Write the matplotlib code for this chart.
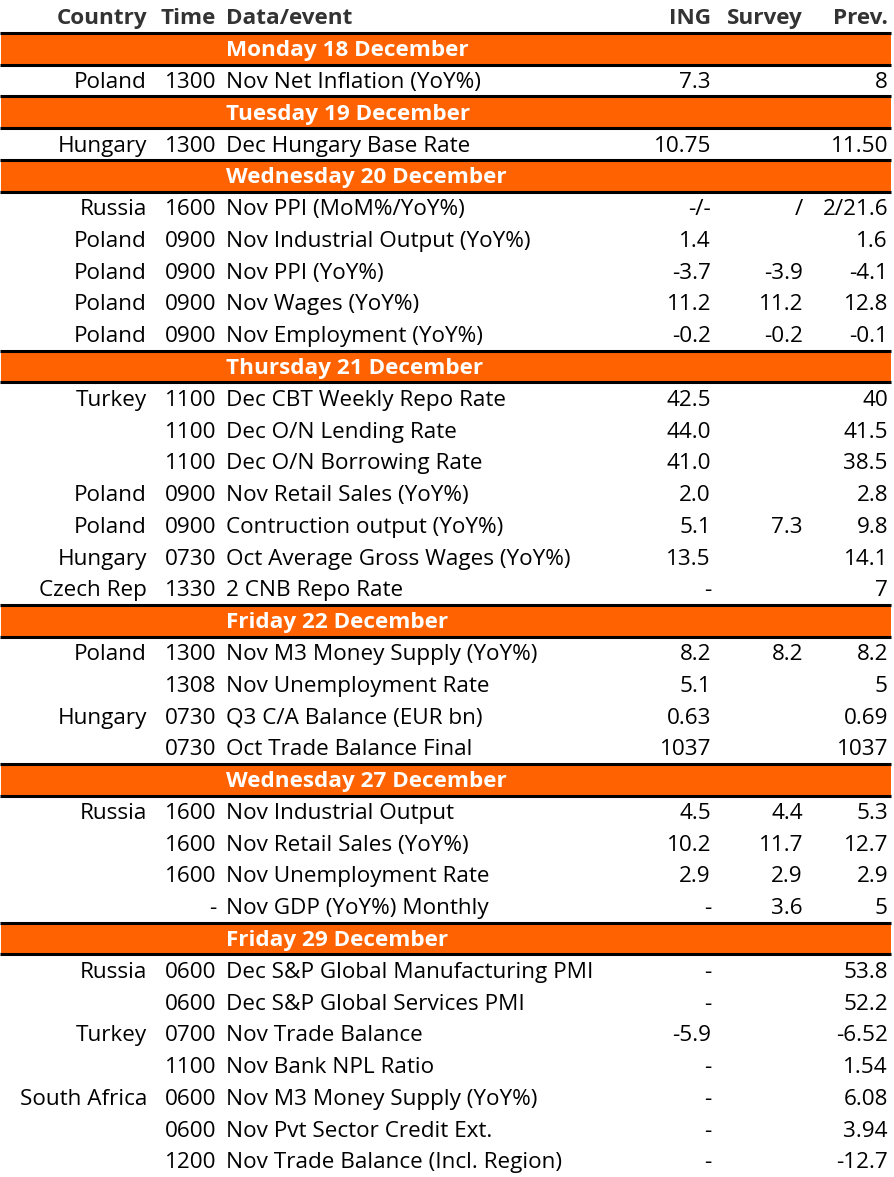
import matplotlib
matplotlib.use("Agg")
import matplotlib.pyplot as plt
from matplotlib.patches import Rectangle

# ---------------- data ----------------
headers = ["Country", "Time", "Data/event", "ING", "Survey", "Prev."]

days = ["Monday 18 December", "Tuesday 19 December", "Wednesday 20 December",
        "Thursday 21 December", "Friday 22 December", "Wednesday 27 December",
        "Friday 29 December"]

row_day = [0,
           1,
           2, 2, 2, 2, 2,
           3, 3, 3, 3, 3, 3, 3,
           4, 4, 4, 4,
           5, 5, 5, 5,
           6, 6, 6, 6, 6, 6, 6]

countries = ["Poland",
             "Hungary",
             "Russia", "Poland", "Poland", "Poland", "Poland",
             "Turkey", "", "", "Poland", "Poland", "Hungary", "Czech Rep",
             "Poland", "", "Hungary", "",
             "Russia", "", "", "",
             "Russia", "", "Turkey", "", "South Africa", "", ""]

times = ["1300",
         "1300",
         "1600", "0900", "0900", "0900", "0900",
         "1100", "1100", "1100", "0900", "0900", "0730", "1330",
         "1300", "1308", "0730", "0730",
         "1600", "1600", "1600", "-",
         "0600", "0600", "0700", "1100", "0600", "0600", "1200"]

events = ["Nov Net Inflation (YoY%)",
          "Dec Hungary Base Rate",
          "Nov PPI (MoM%/YoY%)", "Nov Industrial Output (YoY%)", "Nov PPI (YoY%)",
          "Nov Wages (YoY%)", "Nov Employment (YoY%)",
          "Dec CBT Weekly Repo Rate", "Dec O/N Lending Rate", "Dec O/N Borrowing Rate",
          "Nov Retail Sales (YoY%)", "Contruction output (YoY%)",
          "Oct Average Gross Wages (YoY%)", "2 CNB Repo Rate",
          "Nov M3 Money Supply (YoY%)", "Nov Unemployment Rate",
          "Q3 C/A Balance (EUR bn)", "Oct Trade Balance Final",
          "Nov Industrial Output", "Nov Retail Sales (YoY%)",
          "Nov Unemployment Rate", "Nov GDP (YoY%) Monthly",
          "Dec S&P Global Manufacturing PMI", "Dec S&P Global Services PMI",
          "Nov Trade Balance", "Nov Bank NPL Ratio", "Nov M3 Money Supply (YoY%)",
          "Nov Pvt Sector Credit Ext.", "Nov Trade Balance (Incl. Region)"]

ing = ["7.3",
       "10.75",
       "-/-", "1.4", "-3.7", "11.2", "-0.2",
       "42.5", "44.0", "41.0", "2.0", "5.1", "13.5", "-",
       "8.2", "5.1", "0.63", "1037",
       "4.5", "10.2", "2.9", "-",
       "-", "-", "-5.9", "-", "-", "-", "-"]

survey = ["",
          "",
          "/", "", "-3.9", "11.2", "-0.2",
          "", "", "", "", "7.3", "", "",
          "8.2", "", "", "",
          "4.4", "11.7", "2.9", "3.6",
          "", "", "", "", "", "", ""]

prev = ["8",
        "11.50",
        "2/21.6", "1.6", "-4.1", "12.8", "-0.1",
        "40", "41.5", "38.5", "2.8", "9.8", "14.1", "7",
        "8.2", "5", "0.69", "1037",
        "5.3", "12.7", "2.9", "5",
        "53.8", "52.2", "-6.52", "1.54", "6.08", "3.94", "-12.7"]

# ---------------- layout ----------------
W, H = 894, 1177
ORANGE = "#FF6200"
FONT = ["Open Sans", "DejaVu Sans"]
FS = 16.2

fig = plt.figure(figsize=(W / 100, H / 100), dpi=100)
ax = fig.add_axes([0, 0, 1, 1])
ax.set_xlim(0, W)
ax.set_ylim(H, 0)
ax.axis("off")

row_h = 31.78
y0 = 1.0
x_left, x_right = 1.0, 890.5
col_country = 147
col_time = 216
col_event = 226
col_ing = 711
col_survey = 803
col_prev = 888


def center(k):
    return y0 + (k + 0.5) * row_h


def text(x, k, s, ha, color="black", weight="normal"):
    ax.text(x, center(k) + 2.0, s, ha=ha, va="center", fontsize=FS,
            family=FONT, color=color, fontweight=weight)


# header
hdr_color = "#333333"
text(col_country, 0, headers[0], "right", hdr_color, "bold")
text(col_time, 0, headers[1], "right", hdr_color, "bold")
text(col_event, 0, headers[2], "left", hdr_color, "bold")
text(col_ing, 0, headers[3], "right", hdr_color, "bold")
text(col_survey, 0, headers[4], "right", hdr_color, "bold")
text(col_prev, 0, headers[5], "right", hdr_color, "bold")

k = 1
prev_day = None
for i in range(len(events)):
    if row_day[i] != prev_day:
        prev_day = row_day[i]
        top = y0 + k * row_h
        ax.add_patch(Rectangle((x_left, top), x_right - x_left, row_h,
                               facecolor=ORANGE, edgecolor="none", zorder=1))
        ax.plot([x_left - 1, x_right], [top, top], color="black", lw=2.2,
                solid_capstyle="butt", zorder=2)
        ax.plot([x_left - 1, x_right], [top + row_h, top + row_h], color="black",
                lw=2.2, solid_capstyle="butt", zorder=2)
        text(col_event, k, days[row_day[i]], "left", "white", "bold")
        k += 1
    text(col_country, k, countries[i], "right")
    text(col_time, k, times[i], "right")
    text(col_event, k, events[i], "left")
    text(col_ing, k, ing[i], "right")
    text(col_survey, k, survey[i], "right")
    text(col_prev, k, prev[i], "right")
    k += 1

fig.savefig("out.png", dpi=100, facecolor="white")
